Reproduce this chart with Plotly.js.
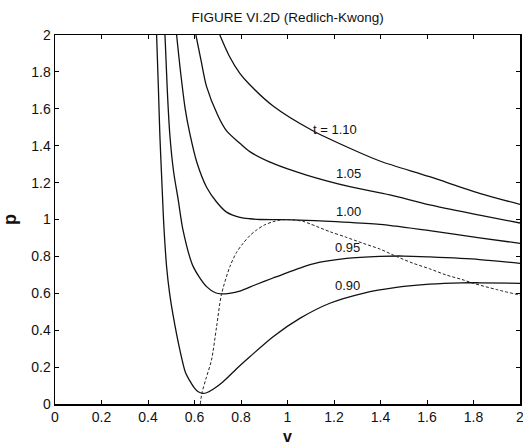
<!DOCTYPE html>
<html>
<head>
<meta charset="utf-8">
<script src="https://cdn.plot.ly/plotly-3.0.1.min.js"></script>
<style>
  html, body { margin: 0; padding: 0; background: #fff; }
  #chart { width: 523px; height: 446px; }
</style>
</head>
<body>
<div id="chart"></div>
<script>
// Reduced Redlich-Kwong isotherms: reduced pressure p against reduced volume v.
const v090 = [0.437, 0.445, 0.451, 0.458, 0.463, 0.468, 0.480, 0.493, 0.508, 0.537, 0.560, 0.580, 0.600, 0.616, 0.635, 0.652, 0.680, 0.723, 0.780, 0.838, 0.938, 1.053, 1.182, 1.325, 1.468, 1.611, 1.750, 1.826, 2.000];
const p090 = [2.000, 1.700, 1.458, 1.250, 1.106, 0.970, 0.744, 0.600, 0.480, 0.293, 0.175, 0.125, 0.086, 0.066, 0.058, 0.061, 0.080, 0.121, 0.190, 0.256, 0.365, 0.464, 0.546, 0.600, 0.632, 0.650, 0.657, 0.657, 0.654];

const v095 = [0.473, 0.483, 0.494, 0.510, 0.530, 0.551, 0.594, 0.652, 0.690, 0.716, 0.750, 0.795, 0.860, 0.938, 1.053, 1.110, 1.254, 1.397, 1.500, 1.611, 1.826, 2.000];
const p095 = [2.000, 1.700, 1.458, 1.260, 1.106, 0.940, 0.746, 0.636, 0.603, 0.597, 0.600, 0.612, 0.645, 0.683, 0.737, 0.760, 0.789, 0.800, 0.802, 0.797, 0.783, 0.762];

const v100 = [0.523, 0.540, 0.560, 0.580, 0.610, 0.652, 0.695, 0.738, 0.795, 0.838, 0.881, 0.967, 1.053, 1.210, 1.397, 1.611, 1.826, 2.000];
const p100 = [2.000, 1.800, 1.600, 1.465, 1.310, 1.175, 1.095, 1.040, 1.012, 1.004, 1.000, 0.999, 0.997, 0.988, 0.974, 0.940, 0.900, 0.871];

const v105 = [0.606, 0.630, 0.652, 0.700, 0.738, 0.795, 0.838, 0.938, 1.082, 1.268, 1.440, 1.611, 1.826, 2.000];
const p105 = [2.000, 1.850, 1.720, 1.565, 1.480, 1.413, 1.368, 1.304, 1.241, 1.178, 1.133, 1.079, 1.024, 0.981];

const v110 = [0.709, 0.750, 0.795, 0.838, 0.938, 1.103, 1.268, 1.397, 1.611, 1.826, 2.000];
const p110 = [2.000, 1.885, 1.792, 1.730, 1.615, 1.485, 1.386, 1.317, 1.232, 1.142, 1.082];

// Dashed locus of the isotherm extrema (spinodal)
const vSpin = [0.625, 0.632, 0.650, 0.673, 0.695, 0.716, 0.752, 0.780, 0.809, 0.840, 0.867, 0.900, 0.938, 0.970, 1.000, 1.030, 1.067, 1.100, 1.182, 1.250, 1.325, 1.397, 1.468, 1.540, 1.611, 1.683, 1.750, 1.800, 1.900, 2.000];
const pSpin = [0.000, 0.060, 0.140, 0.238, 0.419, 0.594, 0.744, 0.820, 0.871, 0.915, 0.943, 0.970, 0.988, 0.997, 1.000, 0.997, 0.990, 0.975, 0.934, 0.905, 0.871, 0.840, 0.800, 0.763, 0.733, 0.699, 0.675, 0.654, 0.620, 0.590];

const curveLabels = ['t = 1.10', '1.05', '1.00', '0.95', '0.90'];
const labelV = [1.203, 1.264, 1.264, 1.260, 1.260];
const labelP = [1.490, 1.247, 1.043, 0.846, 0.645];

const xTicks = [0, 0.2, 0.4, 0.6, 0.8, 1, 1.2, 1.4, 1.6, 1.8, 2];
const xTickText = ['0', '0.2', '0.4', '0.6', '0.8', '1', '1.2', '1.4', '1.6', '1.8', '2'];
const yTicks = [0, 0.2, 0.4, 0.6, 0.8, 1, 1.2, 1.4, 1.6, 1.8, 2];
const yTickText = ['0', '0.2', '0.4', '0.6', '0.8', '1', '1.2', '1.4', '1.6', '1.8', '2'];

const solid = { color: '#111', width: 1.3, shape: 'spline', smoothing: 0.8 };
const isotherms = [[v090, p090], [v095, p095], [v100, p100], [v105, p105], [v110, p110]];

const traces = isotherms.map(([x, y]) => ({
  x: x, y: y, type: 'scatter', mode: 'lines', line: solid, hoverinfo: 'skip'
}));
traces.push({
  x: vSpin, y: pSpin, type: 'scatter', mode: 'lines',
  line: { color: '#222', width: 1, dash: '3px,2px', shape: 'spline', smoothing: 0.8 },
  hoverinfo: 'skip'
});

const font = 'Liberation Sans, Arial, Helvetica, sans-serif';

const annotations = curveLabels.map((t, i) => ({
  x: labelV[i], y: labelP[i], xref: 'x', yref: 'y', text: t, showarrow: false,
  xanchor: 'center', yanchor: 'middle', font: { family: font, size: 13, color: '#111' }
}));

const axisCommon = {
  range: [0, 2], showgrid: false, zeroline: false,
  showline: true, linecolor: '#000', linewidth: 1.5, mirror: 'allticks',
  ticks: 'inside', ticklen: 4, tickwidth: 1, tickcolor: '#000',
  ticklabeloverflow: 'allow',
  tickfont: { family: font, size: 14, color: '#111' }, fixedrange: true
};

const layout = {
  width: 523, height: 446,
  margin: { l: 55, r: 3, t: 35, b: 42 },
  paper_bgcolor: '#fff', plot_bgcolor: '#fff',
  showlegend: false,
  title: {
    text: 'FIGURE VI.2D (Redlich-Kwong)',
    font: { family: font, size: 13.5, color: '#111' },
    x: 0.55, xanchor: 'center', y: 0.962, yanchor: 'middle'
  },
  xaxis: Object.assign({}, axisCommon, {
    tickvals: xTicks, ticktext: xTickText,
    title: { text: '<b>v</b>', font: { family: font, size: 16, color: '#111' }, standoff: 6 }
  }),
  yaxis: Object.assign({}, axisCommon, {
    tickvals: yTicks, ticktext: yTickText,
    title: { text: '<b>p</b>', font: { family: font, size: 18, color: '#111' }, standoff: 10 }
  }),
  annotations: annotations
};

Plotly.newPlot('chart', traces, layout, { displayModeBar: false, staticPlot: true });
</script>
</body>
</html>
